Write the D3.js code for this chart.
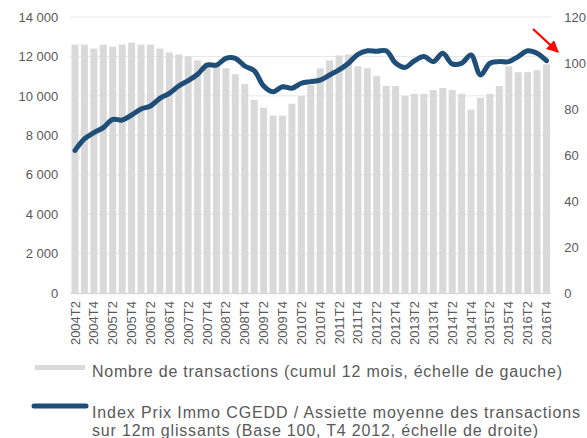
<!DOCTYPE html>
<html>
<head>
<meta charset="utf-8">
<script src="https://cdnjs.cloudflare.com/ajax/libs/d3/7.8.5/d3.min.js"></script>
<style>
  body { margin: 0; background: #fff; }
  svg { display: block; font-family: "Liberation Sans", Arial, sans-serif; }
</style>
</head>
<body>
<svg id="chart" width="587" height="438"></svg>
<script>
'use strict';

var quarters = [
  '2004T2','2004T3','2004T4',
  '2005T1','2005T2','2005T3','2005T4',
  '2006T1','2006T2','2006T3','2006T4',
  '2007T1','2007T2','2007T3','2007T4',
  '2008T1','2008T2','2008T3','2008T4',
  '2009T1','2009T2','2009T3','2009T4',
  '2010T1','2010T2','2010T3','2010T4',
  '2011T1','2011T2','2011T3','2011T4',
  '2012T1','2012T2','2012T3','2012T4',
  '2013T1','2013T2','2013T3','2013T4',
  '2014T1','2014T2','2014T3','2014T4',
  '2015T1','2015T2','2015T3','2015T4',
  '2016T1','2016T2','2016T3','2016T4'
];

// nombre de transactions, cumul 12 mois (echelle de gauche)
var transactions = [
  12600, 12600, 12400, 12600, 12500, 12600, 12700, 12600, 12600, 12400,
  12200, 12100, 12000, 11800, 11700, 11600, 11400, 11100, 10600, 9800,
  9400, 9000, 9000, 9600, 10000, 10550, 11400, 11800, 12050, 12100,
  11500, 11400, 11000, 10500, 10500, 10000, 10100, 10100, 10300, 10400,
  10300, 10100, 9300, 9900, 10100, 10500, 11500, 11200, 11200, 11300, 11600
];

// index prix immo CGEDD, base 100 T4 2012 (echelle de droite)
var priceIndex = [
  62, 67, 69.7, 71.9, 75.5, 75.2, 77.4, 80, 81.3, 84.6,
  86.8, 90, 92.3, 95.1, 99.1, 99.1, 102, 102, 98.7, 96.7,
  90, 87.5, 89.7, 89, 91.2, 91.9, 92.6, 94.8, 97, 99.9,
  103.8, 105.3, 105.1, 105.3, 100, 98.1, 101, 102.8, 100.6, 104.2,
  99.6, 99.9, 103.5, 94.8, 99.9, 100.6, 100.6, 102.8, 105.3, 104.2, 101
];

var leftTicks = [0, 2000, 4000, 6000, 8000, 10000, 12000, 14000];
var rightTicks = [0, 20, 40, 60, 80, 100, 120];

var legendBars = 'Nombre de transactions (cumul 12 mois, échelle de gauche)';
var legendLine = [
  'Index Prix Immo CGEDD / Assiette moyenne des transactions',
  'sur 12m glissants (Base 100, T4 2012, échelle de droite)'
];

var svg = d3.select('#chart');
var plotLeft = 70.3, plotRight = 551.2, plotTop = 17, plotBottom = 293;

var x = d3.scaleBand()
  .domain(quarters)
  .range([plotLeft, plotRight])
  .paddingInner(0.26)
  .paddingOuter(0.13);

var yLeft = d3.scaleLinear().domain([0, 14000]).range([plotBottom, plotTop]);
var yRight = d3.scaleLinear().domain([0, 120]).range([plotBottom, plotTop]);

var fmt = function(d){
  return d3.format(',')(d).replace(',', ' ');
};

// grid
svg.append('g')
  .selectAll('line')
  .data(leftTicks.slice(1))
  .enter().append('line')
  .attr('x1', plotLeft)
  .attr('x2', plotRight)
  .attr('y1', function(d){ return yLeft(d); })
  .attr('y2', function(d){ return yLeft(d); })
  .attr('stroke', '#e8e8e8')
  .attr('stroke-width', 1);

// bars
svg.append('g')
  .selectAll('rect')
  .data(transactions)
  .enter().append('rect')
  .attr('x', function(d, i){ return x(quarters[i]); })
  .attr('width', x.bandwidth())
  .attr('y', function(d){ return yLeft(d); })
  .attr('height', function(d){ return plotBottom - yLeft(d); })
  .attr('fill', '#d9d9d9');

// baseline
svg.append('line')
  .attr('x1', plotLeft)
  .attr('x2', plotRight)
  .attr('y1', plotBottom + 0.5)
  .attr('y2', plotBottom + 0.5)
  .attr('stroke', '#d9d9d9')
  .attr('stroke-width', 1.5);

// price line
var line = d3.line()
  .x(function(d, i){ return x(quarters[i]) + x.bandwidth() / 2; })
  .y(function(d){ return yRight(d); })
  .curve(d3.curveCatmullRom.alpha(0.5));

svg.append('path')
  .datum(priceIndex)
  .attr('d', line)
  .attr('fill', 'none')
  .attr('stroke', '#1f4e79')
  .attr('stroke-width', 5)
  .attr('stroke-linejoin', 'round')
  .attr('stroke-linecap', 'round');

// axes
var leftAxis = svg.append('g')
  .attr('transform', 'translate(' + (plotLeft - 12) + ',0)')
  .call(d3.axisLeft(yLeft).tickValues(leftTicks).tickFormat(fmt).tickSize(0).tickPadding(0));

var rightAxis = svg.append('g')
  .attr('transform', 'translate(' + (plotRight + 13) + ',0)')
  .call(d3.axisRight(yRight).tickValues(rightTicks).tickSize(0).tickPadding(0));

var bottomAxis = svg.append('g')
  .attr('transform', 'translate(0,' + (plotBottom + 8) + ')')
  .call(d3.axisBottom(x)
    .tickValues(quarters.filter(function(d, i){ return i % 2 === 0; }))
    .tickSize(0).tickPadding(0));

[leftAxis, rightAxis, bottomAxis].forEach(function(g){
  g.select('.domain').remove();
  g.selectAll('text')
    .attr('fill', '#595959')
    .style('font-family', '"Liberation Sans", Arial, sans-serif')
    .style('font-size', '13px');
});

bottomAxis.selectAll('text')
  .attr('transform', 'rotate(-90)')
  .attr('text-anchor', 'end')
  .attr('x', 0)
  .attr('y', 0)
  .attr('dx', 0)
  .attr('dy', '0.35em');

// red arrow annotation
svg.append('defs').append('marker')
  .attr('id', 'arrowHead')
  .attr('viewBox', '0 0 10 10')
  .attr('refX', 9)
  .attr('refY', 5)
  .attr('markerWidth', 5.5)
  .attr('markerHeight', 5.5)
  .attr('markerUnits', 'strokeWidth')
  .attr('orient', 'auto')
  .append('path')
  .attr('d', 'M0,0L10,5L0,10Z')
  .attr('fill', '#ff0000');

svg.append('line')
  .attr('x1', 533)
  .attr('y1', 29)
  .attr('x2', 558)
  .attr('y2', 52)
  .attr('stroke', '#ff0000')
  .attr('stroke-width', 2.2)
  .attr('marker-end', 'url(#arrowHead)');

// legend
var legend = svg.append('g')
  .attr('fill', '#595959')
  .style('font-size', '16px');

legend.append('line')
  .attr('x1', 35).attr('x2', 85)
  .attr('y1', 367.5).attr('y2', 367.5)
  .attr('stroke', '#d9d9d9')
  .attr('stroke-width', 5);

legend.append('text')
  .attr('x', 92)
  .attr('y', 377)
  .attr('textLength', 470)
  .attr('lengthAdjust', 'spacing')
  .text(legendBars);

legend.append('line')
  .attr('x1', 34).attr('x2', 86)
  .attr('y1', 406).attr('y2', 406)
  .attr('stroke', '#1f4e79')
  .attr('stroke-width', 5)
  .attr('stroke-linecap', 'round');

legend.selectAll('text.idx')
  .data(legendLine)
  .enter().append('text')
  .attr('class', 'idx')
  .attr('x', 92)
  .attr('y', function(d, i){ return 418 + i * 18; })
  .attr('textLength', function(d, i){ return i === 0 ? 488 : 446; })
  .attr('lengthAdjust', 'spacing')
  .text(function(d){ return d; });
</script>
</body>
</html>
